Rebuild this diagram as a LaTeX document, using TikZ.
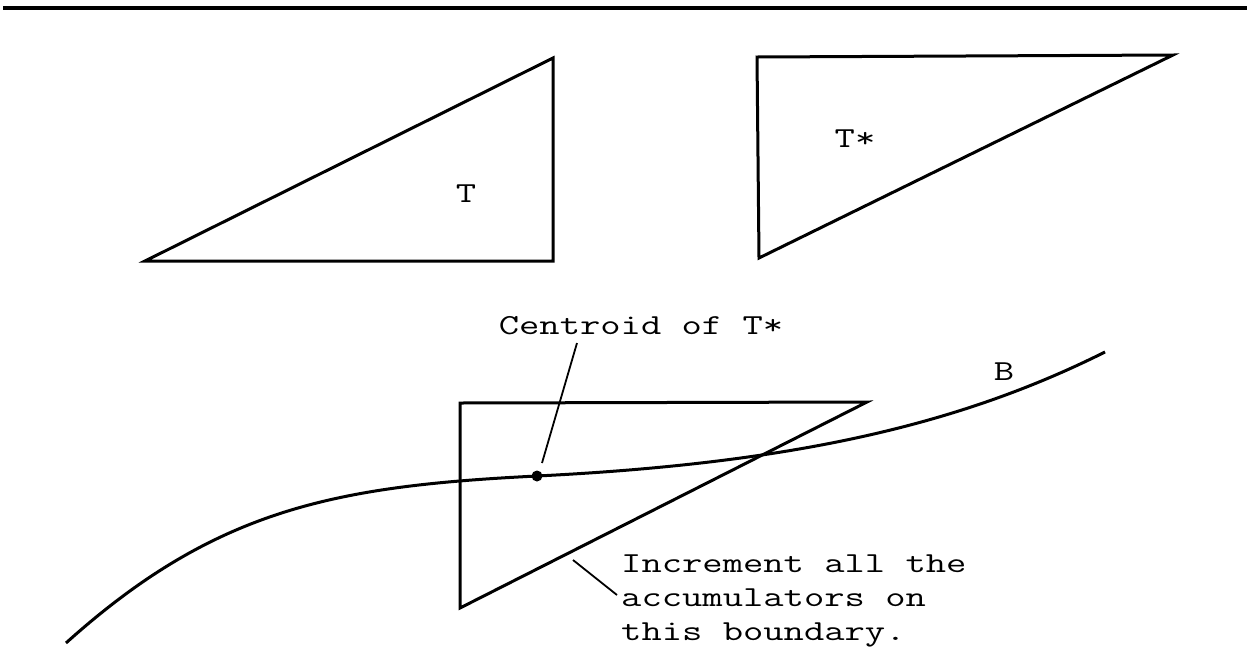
\documentclass[tikz,border=0pt]{standalone}
\usepackage{graphicx}
\newcommand\twtext[1]{\scalebox{1.36}[1]{\fontsize{29}{34}\selectfont\ttfamily #1}}
\begin{document}
\begin{tikzpicture}[x=1pt,y=-1pt,
  rule/.style={line width=4pt},
  edge/.style={line width=3pt},
  leader/.style={line width=1.8pt},
  curveB/.style={line width=3pt},
  lbl/.style={inner sep=0pt}]
\useasboundingbox (0,0) rectangle (1247,646);
% top rule
\coordinate (r1) at (3,8);
\coordinate (r2) at (1247,8);
\draw[rule] (r1) -- (r2);
% triangle T
\coordinate (ta) at (145,261);
\coordinate (tb) at (553,58);
\coordinate (tc) at (553,261);
\draw[edge] (ta) -- (tb) -- (tc) -- cycle;
\node[lbl, anchor=base] (tlab) at (466,202) {\twtext{T}};
% triangle T*
\coordinate (sa) at (757,57);
\coordinate (sb) at (1173,55);
\coordinate (sc) at (759,258);
\draw[edge] (sa) -- (sb) -- (sc) -- cycle;
\node[lbl, anchor=base] (slab) at (855,147) {\twtext{T*}};
% bottom triangle
\coordinate (ua) at (460,403);
\coordinate (ub) at (867,402);
\coordinate (uc) at (460,608);
\draw[edge] (ua) -- (ub) -- (uc) -- cycle;
% boundary curve B
\coordinate (b0) at (66,643);
\coordinate (cen) at (537,476);
\coordinate (b2) at (1105,352);
\draw[curveB] (b0) .. controls (216,508) and (337,486) .. (cen)
  .. controls (787,463.5) and (955,427) .. (b2);
\node[lbl, anchor=base] (blab) at (1004,380) {\twtext{B}};
% centroid
\fill (cen) circle (5.5);
\node[lbl, anchor=base] (ctext) at (641,334) {\twtext{Centroid of T*}};
\coordinate (cl1) at (577,343);
\coordinate (cl2) at (542,463);
\draw[leader] (cl1) -- (cl2);
% increment label
\node[lbl, anchor=base west] (itext) at (621,572) {\twtext{\begin{tabular}[t]{@{}l@{}}Increment all the\\accumulators on\\this boundary.\end{tabular}}};
\coordinate (il1) at (617,595);
\coordinate (il2) at (573,560);
\draw[leader] (il1) -- (il2);
\end{tikzpicture}
\end{document}
